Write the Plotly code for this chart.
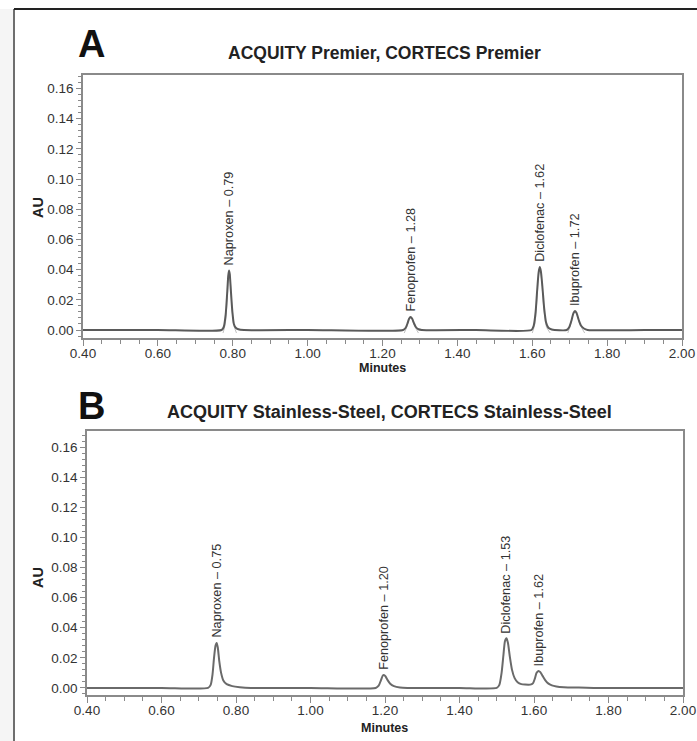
import plotly.graph_objects as go

W, H = 697, 741

# ---------------- data ----------------
# Panel A: ACQUITY Premier, CORTECS Premier
a_time = [0.40, 0.60, 0.770, 0.776, 0.781, 0.785, 0.788, 0.790, 0.792, 0.795, 0.799, 0.803, 0.808, 0.815, 0.830,
          1.00, 1.255, 1.262, 1.267, 1.271, 1.275, 1.279, 1.284, 1.289, 1.296, 1.305,
          1.45, 1.598, 1.604, 1.609, 1.613, 1.617, 1.620, 1.623, 1.627, 1.632, 1.637, 1.643, 1.652, 1.660,
          1.692, 1.699, 1.705, 1.710, 1.714, 1.718, 1.724, 1.730, 1.738, 1.748, 1.90, 2.00]
a_au = [0.0, 0.0, 0.0, 0.002, 0.010, 0.024, 0.036, 0.0395, 0.037, 0.026, 0.012, 0.004, 0.0015, 0.0005, 0.0,
        0.0, 0.0, 0.0015, 0.0045, 0.0075, 0.0086, 0.0076, 0.0045, 0.002, 0.0005, 0.0,
        0.0, 0.0, 0.003, 0.012, 0.026, 0.038, 0.0417, 0.039, 0.029, 0.014, 0.005, 0.0015, 0.0003, 0.0,
        0.0, 0.002, 0.0065, 0.0112, 0.0126, 0.0114, 0.0068, 0.003, 0.001, 0.0, 0.0, 0.0]

# faint fitted peak profiles in panel A
a_fit_time = [0.774, 0.780, 0.785, 0.789, 0.791, 0.794, 0.798, 0.803, 0.810, None,
              1.258, 1.265, 1.271, 1.276, 1.281, 1.287, 1.296, None,
              1.600, 1.607, 1.613, 1.618, 1.621, 1.625, 1.631, 1.638, 1.648, None,
              1.695, 1.703, 1.709, 1.715, 1.720, 1.727, 1.740]
a_fit_au = [-0.002, 0.004, 0.020, 0.036, 0.038, 0.031, 0.014, 0.003, -0.002, None,
            -0.002, 0.002, 0.007, 0.0082, 0.006, 0.002, -0.002, None,
            -0.002, 0.004, 0.022, 0.038, 0.040, 0.033, 0.014, 0.002, -0.002, None,
            -0.002, 0.004, 0.010, 0.012, 0.010, 0.004, -0.002]

# Panel B: ACQUITY Stainless-Steel, CORTECS Stainless-Steel
b_time = [0.40, 0.60, 0.725, 0.732, 0.737, 0.741, 0.745, 0.748, 0.751, 0.755, 0.760, 0.766, 0.775, 0.790, 0.810, 0.840,
          1.00, 1.175, 1.183, 1.189, 1.194, 1.197, 1.201, 1.207, 1.214, 1.224, 1.240, 1.260,
          1.40, 1.500, 1.507, 1.513, 1.518, 1.522, 1.526, 1.530, 1.535, 1.541, 1.548, 1.556, 1.566, 1.576, 1.590, 1.597,
          1.602, 1.607, 1.612, 1.617, 1.623, 1.630, 1.638, 1.648, 1.660, 1.680, 1.720, 1.760, 1.90, 2.00]
b_au = [0.0, 0.0, 0.0, 0.002, 0.009, 0.020, 0.028, 0.0299, 0.027, 0.018, 0.010, 0.005, 0.0025, 0.0012, 0.0005, 0.0,
        0.0, 0.0, 0.0015, 0.005, 0.0082, 0.0086, 0.0078, 0.0052, 0.0028, 0.0012, 0.0003, 0.0,
        0.0, 0.0, 0.002, 0.010, 0.022, 0.031, 0.033, 0.030, 0.021, 0.012, 0.0065, 0.0038, 0.0025, 0.0022, 0.0022, 0.003,
        0.006, 0.0100, 0.0113, 0.0105, 0.0080, 0.0052, 0.0030, 0.0017, 0.0010, 0.0005, 0.0002, 0.0, 0.0, 0.0]

compounds = ["Naproxen", "Fenoprofen", "Diclofenac", "Ibuprofen"]
a_rt_labels = ["0.79", "1.28", "1.62", "1.72"]
a_peak_time = [0.790, 1.275, 1.620, 1.714]
a_peak_au = [0.0395, 0.0086, 0.0417, 0.0126]
b_rt_labels = ["0.75", "1.20", "1.53", "1.62"]
b_peak_time = [0.748, 1.197, 1.526, 1.612]
b_peak_au = [0.0299, 0.0086, 0.033, 0.0113]

y_ticks = [0.00, 0.02, 0.04, 0.06, 0.08, 0.10, 0.12, 0.14, 0.16]
x_ticks = [0.40, 0.60, 0.80, 1.00, 1.20, 1.40, 1.60, 1.80, 2.00]

# ---------------- helpers ----------------
def px(x):
    return x / W

def py(y):
    return 1 - y / H

FONT = "Liberation Sans, Arial, sans-serif"
TXT = "#333333"
AXC = "#8a8a8a"

fig = go.Figure()

fig.add_trace(go.Scatter(x=a_fit_time, y=a_fit_au, mode="lines", xaxis="x", yaxis="y",
                         line=dict(color="#b0b0b0", width=0.8, shape="spline", smoothing=0.8),
                         connectgaps=False, hoverinfo="skip", showlegend=False))
fig.add_trace(go.Scatter(x=a_time, y=a_au, mode="lines", xaxis="x", yaxis="y",
                         line=dict(color="#5a5a5a", width=2, shape="spline", smoothing=0.6),
                         showlegend=False))
fig.add_trace(go.Scatter(x=b_time, y=b_au, mode="lines", xaxis="x2", yaxis="y2",
                         line=dict(color="#6a6a6a", width=2, shape="spline", smoothing=0.6),
                         showlegend=False))

def xaxis_cfg(domain):
    return dict(domain=domain, range=[0.40, 2.00], tickvals=x_ticks,
                ticktext=[f"{v:.2f}" for v in x_ticks],
                showgrid=False, zeroline=False, showline=True, mirror=True,
                linecolor=AXC, linewidth=1.5, ticks="outside", ticklen=6, tickwidth=1.2,
                tickcolor=AXC, tickfont=dict(family=FONT, size=13.5, color=TXT),
                ticklabelstandoff=-4, ticklabeloverflow="allow",
                minor=dict(dtick=0.05, tick0=0.40, ticks="outside", ticklen=4, tickcolor=AXC, tickwidth=1),
                automargin=False, fixedrange=True)

def yaxis_cfg(domain, rng, anchor):
    return dict(domain=domain, range=rng, anchor=anchor, tickvals=y_ticks,
                ticktext=[f"{v:.2f}" for v in y_ticks],
                showgrid=False, zeroline=False, showline=True, mirror=True,
                linecolor=AXC, linewidth=1.5, ticks="outside", ticklen=5, tickwidth=1.2,
                tickcolor=AXC, tickfont=dict(family=FONT, size=13.5, color=TXT),
                minor=dict(dtick=0.004, tick0=0, ticks="outside", ticklen=3, tickcolor=AXC, tickwidth=1),
                automargin=False, fixedrange=True)

fig.update_layout(
    width=W, height=H,
    margin=dict(l=0, r=0, t=0, b=0),
    paper_bgcolor="white", plot_bgcolor="white",
    xaxis=dict(**xaxis_cfg([px(83), px(682)]), anchor="y"),
    yaxis=yaxis_cfg([py(338), py(75)], [-0.0053, 0.169], "x"),
    xaxis2=dict(**xaxis_cfg([px(87), px(683)]), anchor="y2"),
    yaxis2=yaxis_cfg([py(695), py(431)], [-0.0047, 0.1707], "x2"),
    showlegend=False,
)

ann = []
# peak labels
for name, rt, t, h in zip(compounds, a_rt_labels, a_peak_time, a_peak_au):
    ann.append(dict(x=t, y=h, xref="x", yref="y", text=f"{name} \u2013 {rt}", textangle=-90,
                    showarrow=False, xanchor="center", yanchor="bottom", yshift=3,
                    font=dict(family=FONT, size=12.7, color=TXT)))
for name, rt, t, h in zip(compounds, b_rt_labels, b_peak_time, b_peak_au):
    ann.append(dict(x=t, y=h, xref="x2", yref="y2", text=f"{name} \u2013 {rt}", textangle=-90,
                    showarrow=False, xanchor="center", yanchor="bottom", yshift=3,
                    font=dict(family=FONT, size=12.7, color=TXT)))

def txt(x, y, s, size, bold=True, angle=0, color="#1a1a1a"):
    return dict(x=px(x), y=py(y), xref="paper", yref="paper", text=f"<b>{s}</b>" if bold else s,
                showarrow=False, xanchor="center", yanchor="middle", textangle=angle,
                font=dict(family=FONT, size=size, color=color))

ann += [
    txt(91, 44, "A", 38, color="#111111"),
    txt(384, 53, "ACQUITY Premier, CORTECS Premier", 17.5, color="#222222"),
    txt(91, 406, "B", 38, color="#111111"),
    txt(389, 412, "ACQUITY Stainless-Steel, CORTECS Stainless-Steel", 18, color="#222222"),
    txt(382, 368, "Minutes", 12.5, color="#222222"),
    txt(384, 728, "Minutes", 12.5, color="#222222"),
    txt(38, 208, "AU", 14.5, angle=-90, color="#222222"),
    txt(38, 578, "AU", 14.5, angle=-90, color="#222222"),
]
fig.update_layout(annotations=ann)

# outer frame and left strip
fig.add_shape(type="rect", xref="paper", yref="paper", x0=0, x1=px(13), y0=0, y1=py(9),
              fillcolor="#f5f5f5", line=dict(width=0), layer="below")
fig.add_shape(type="line", xref="paper", yref="paper", x0=px(14), x1=px(14), y0=0, y1=py(9),
              line=dict(color="#6e6e6e", width=2))
fig.add_shape(type="line", xref="paper", yref="paper", x0=px(14), x1=1, y0=py(9), y1=py(9),
              line=dict(color="#222222", width=2))

fig.write_html("out.html", config={"displayModeBar": False},
               post_script="document.body.style.margin='0';document.body.style.overflow='hidden';")
